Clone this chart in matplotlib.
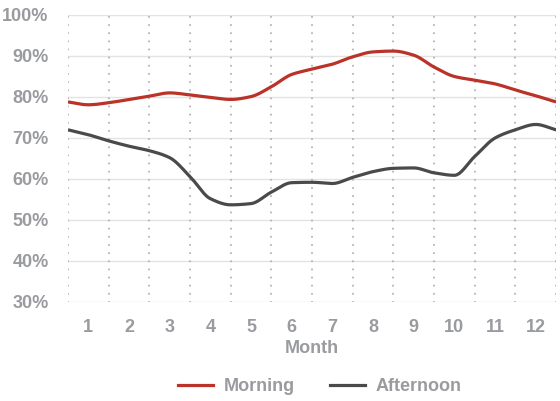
import numpy as np
import matplotlib
matplotlib.use("Agg")
import matplotlib.pyplot as plt
from matplotlib.lines import Line2D

# Half-month sample positions and readings (percent)
months = [0.5, 1.0, 1.5, 2.0, 2.5, 3.0, 3.5, 4.0, 4.5, 5.0, 5.5, 6.0, 6.5,
          7.0, 7.5, 8.0, 8.5, 9.0, 9.5, 10.0, 10.5, 11.0, 11.5, 12.0, 12.5]
morning = [78.8, 78.1, 78.6, 79.4, 80.2, 81.0, 80.5, 79.9, 79.4, 80.1, 82.5,
           85.5, 86.8, 88.0, 89.8, 91.0, 91.2, 90.2, 87.3, 85.0, 84.1, 83.2,
           81.7, 80.3, 78.8]
afternoon = [72.0, 70.8, 69.3, 68.0, 66.9, 65.2, 60.6, 55.2, 53.7, 54.0, 56.8,
             59.1, 59.2, 58.9, 60.4, 61.8, 62.6, 62.7, 61.5, 60.9, 65.5, 70.0,
             72.0, 73.3, 72.0]
month_labels = [str(m) for m in range(1, 13)]
y_ticks = [30, 40, 50, 60, 70, 80, 90, 100]

RED = "#bb3228"
DARK = "#4a4a4c"
GREY = "#9a9b9f"
FONT = ["Liberation Sans", "DejaVu Sans"]


def monotone(x, y, n=600):
    """Fritsch-Carlson monotone cubic interpolation."""
    x = np.asarray(x, float)
    y = np.asarray(y, float)
    h = np.diff(x)
    d = np.diff(y) / h
    m = np.zeros_like(y)
    m[0], m[-1] = d[0], d[-1]
    for i in range(1, len(y) - 1):
        if d[i - 1] * d[i] <= 0:
            m[i] = 0.0
        else:
            w1 = 2 * h[i] + h[i - 1]
            w2 = h[i] + 2 * h[i - 1]
            m[i] = (w1 + w2) / (w1 / d[i - 1] + w2 / d[i])
    xs = np.linspace(x[0], x[-1], n)
    idx = np.clip(np.searchsorted(x, xs) - 1, 0, len(x) - 2)
    t = (xs - x[idx]) / h[idx]
    h00 = 2 * t**3 - 3 * t**2 + 1
    h10 = t**3 - 2 * t**2 + t
    h01 = -2 * t**3 + 3 * t**2
    h11 = t**3 - t**2
    ys = (h00 * y[idx] + h10 * h[idx] * m[idx]
          + h01 * y[idx + 1] + h11 * h[idx] * m[idx + 1])
    return xs, ys


fig = plt.figure(figsize=(5.6, 4.01), dpi=100)
ax = fig.add_axes([0.1214, 0.2469, 0.8716, 0.7157])

ax.set_xlim(0.5, 12.5)
ax.set_ylim(30, 100)

# horizontal solid gridlines
for v in y_ticks:
    ax.axhline(v, color="#e3e3e3", lw=1.0, zorder=1)
# vertical dotted separators between months
for b in np.arange(0.5, 13.0, 1.0):
    ax.axvline(b, color="#b4b4b4", lw=1.5, ls=(0, (0.01, 3.9)),
               dash_capstyle="round", zorder=1)

xs, ys = monotone(months, morning)
ax.plot(xs, ys, color=RED, lw=2.3, zorder=3, solid_capstyle="butt")
xs, ys = monotone(months, afternoon)
ax.plot(xs, ys, color=DARK, lw=2.3, zorder=3, solid_capstyle="butt")

ax.set_xticks(range(1, 13))
ax.set_xticklabels(month_labels)
ax.set_yticks(y_ticks)
ax.set_yticklabels([f"{v}%" for v in y_ticks])
ax.tick_params(length=0, colors=GREY)
ax.tick_params(axis="y", pad=14)
ax.tick_params(axis="x", pad=12)
for lab in ax.get_xticklabels() + ax.get_yticklabels():
    lab.set_fontfamily(FONT)
    lab.set_fontweight("bold")
    lab.set_fontsize(13)
for s in ax.spines.values():
    s.set_visible(False)

ax.set_xlabel("Month", family=FONT, fontweight="bold", fontsize=13,
              color=GREY, labelpad=3)

handles = [Line2D([], [], color=RED, lw=2.3), Line2D([], [], color=DARK, lw=2.3)]
leg = fig.legend(handles, ["Morning", "Afternoon"], loc="center",
                 bbox_to_anchor=(0.571, 0.035), ncol=2, frameon=False,
                 handlelength=1.95, columnspacing=1.95, handletextpad=0.6,
                 prop={"family": FONT, "weight": "bold", "size": 13})
for t in leg.get_texts():
    t.set_color(GREY)

fig.savefig("out.png", dpi=100)
